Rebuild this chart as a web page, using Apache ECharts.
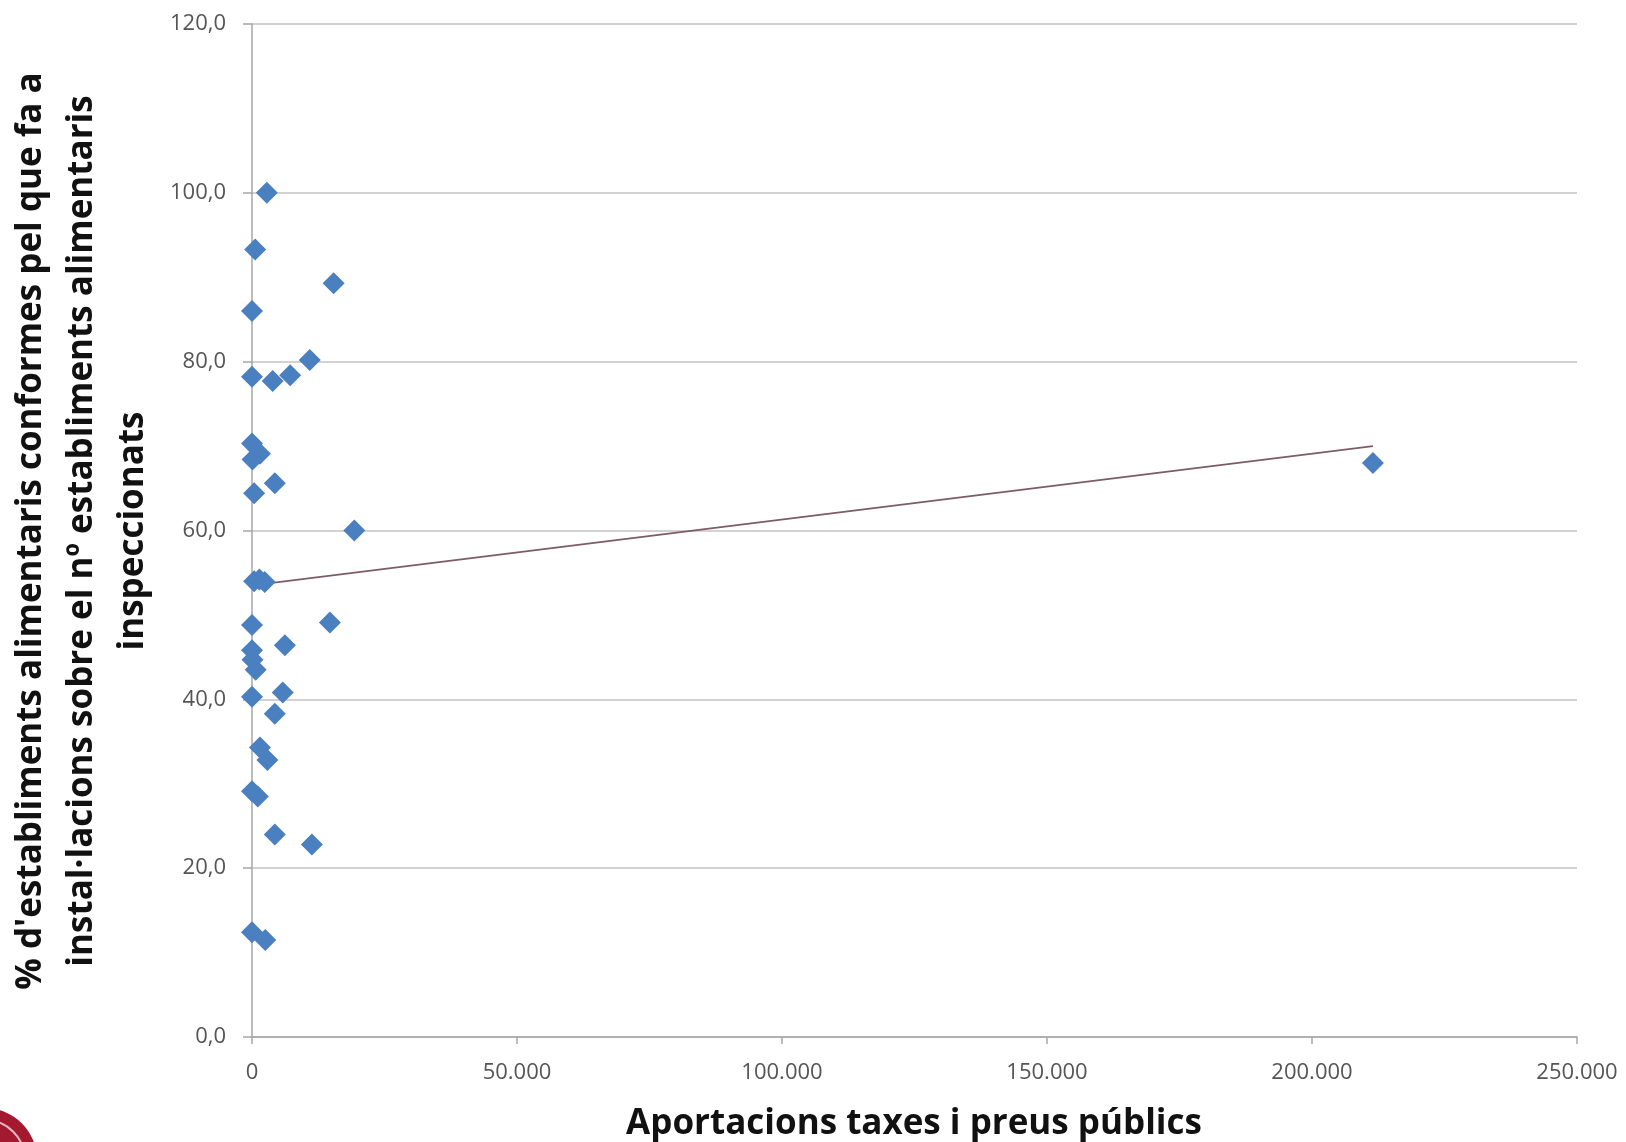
<!DOCTYPE html>
<html>
<head>
<meta charset="utf-8">
<script src="https://cdn.jsdelivr.net/npm/echarts@6/dist/echarts.min.js"></script>
<style>
html,body{margin:0;padding:0;background:#fff;}
#chart{width:1626px;height:1142px;}
</style>
</head>
<body>
<div id="chart"></div>
<script>
// Data
const aportacions = [2800, 600, 15400, 0, 10900, 0, 3900, 7200, 0, 1500, 100, 4300, 400, 19300,
  400, 1400, 2400, 0, 14700, 6200, 0, 100, 700, 0, 5800, 4300, 1500, 2900, 0, 1100, 4300, 11300, 0, 2500, 211500];
const conformitat = [100.0, 93.3, 89.3, 86.0, 80.2, 78.2, 77.7, 78.4, 70.3, 69.1, 68.4, 65.6, 64.4, 60.0,
  54.0, 54.2, 53.9, 48.8, 49.1, 46.4, 45.8, 44.7, 43.5, 40.3, 40.8, 38.3, 34.3, 32.8, 29.1, 28.5, 24.0, 22.8, 12.4, 11.5, 68.0];
const trendX = [0, 211500];
const trendY = [53.5, 70.0];
const xTicks = {min: 0, max: 250000, interval: 50000};
const yTicks = {min: 0, max: 120, interval: 20};
const xTitle = 'Aportacions taxes i preus públics';
const yTitleLines = ["% d'establiments alimentaris conformes pel que fa a",
  "instal·lacions sobre el nº establiments alimentaris",
  "inspeccionats"];

const points = aportacions.map((x, i) => [x, conformitat[i]]);
const trend = trendX.map((x, i) => [x, trendY[i]]);

const chart = echarts.init(document.getElementById('chart'));
const font = "'Open Sans', sans-serif";
const fmtThousands = v => String(v).replace(/\B(?=(\d{3})+(?!\d))/g, '.');

const yTitleX = [31, 82, 133];
chart.setOption({
  animation: false,
  backgroundColor: '#ffffff',
  grid: {left: 252, top: 24, right: 49, bottom: 105, containLabel: false},
  xAxis: {
    type: 'value', min: xTicks.min, max: xTicks.max, interval: xTicks.interval,
    axisLine: {show: true, lineStyle: {color: '#a6a6a6', width: 1.5}},
    axisTick: {show: true, length: 7, lineStyle: {color: '#a6a6a6', width: 1.5}},
    splitLine: {show: false},
    axisLabel: {margin: 25, fontFamily: font, fontSize: 22, color: '#555555', formatter: v => fmtThousands(v)}
  },
  yAxis: {
    type: 'value', min: yTicks.min, max: yTicks.max, interval: yTicks.interval,
    axisLine: {show: true, onZero: false, lineStyle: {color: '#a6a6a6', width: 1.5}},
    axisTick: {show: true, length: 9, lineStyle: {color: '#a6a6a6', width: 1.5}},
    splitLine: {show: true, lineStyle: {color: '#c3c3c3', width: 1.5}},
    axisLabel: {margin: 26, fontFamily: font, fontSize: 22, color: '#555555', formatter: v => v.toFixed(1).replace('.', ',')}
  },
  graphic: [
    {type: 'text', x: 914, y: 1124, style: {text: xTitle, font: "bold 35px 'Open Sans', sans-serif", fill: '#111111', textAlign: 'center', textVerticalAlign: 'middle'}},
    ...yTitleLines.map((t, i) => ({
      type: 'text', x: yTitleX[i], y: 531, rotation: Math.PI / 2,
      style: {text: t, font: "bold 35px 'Open Sans', sans-serif", fill: '#111111', textAlign: 'center', textVerticalAlign: 'middle'}
    })),
    {type: 'circle', shape: {cx: -15, cy: 1160, r: 52}, style: {fill: '#a31a30'}},
    {type: 'circle', shape: {cx: -15, cy: 1160, r: 40}, style: {fill: 'none', stroke: '#e8b9c0', lineWidth: 2}}
  ],
  series: [
    {
      type: 'line', data: trend, showSymbol: false, symbol: 'none', z: 1,
      lineStyle: {color: '#7d5c66', width: 1.8}
    },
    {
      type: 'scatter', data: points, symbol: 'diamond', symbolSize: 22, z: 3,
      itemStyle: {color: '#4a7fc0', opacity: 1}
    }
  ]
});
</script>
</body>
</html>
